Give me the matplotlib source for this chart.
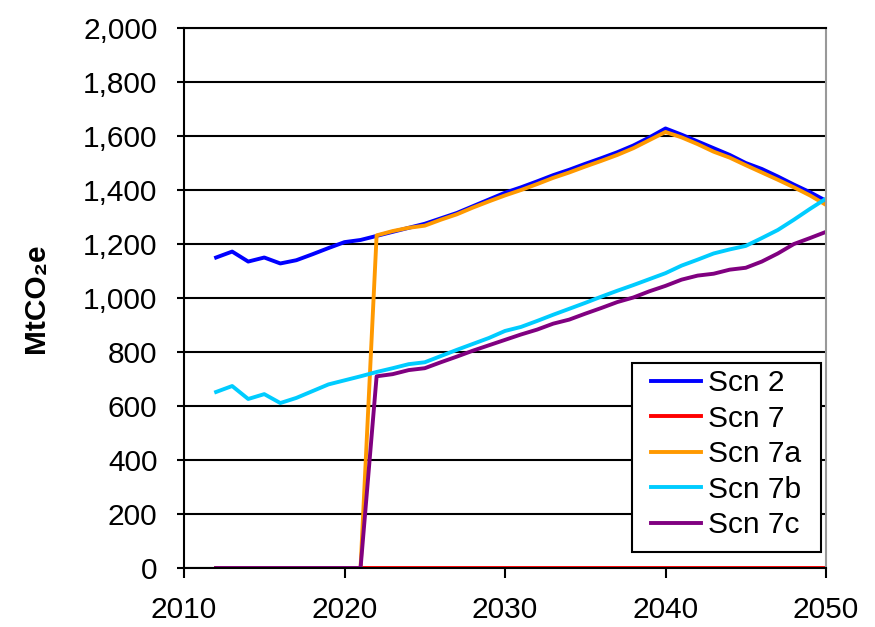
import matplotlib
matplotlib.use('Agg')
import matplotlib.pyplot as plt
from matplotlib.patches import Rectangle
from matplotlib.ticker import FuncFormatter

years = list(range(2012, 2051))

scn2 = [1150, 1172, 1135, 1150, 1128, 1140, 1162, 1185, 1207, 1215,
        1230, 1245, 1260, 1275, 1295, 1315, 1340, 1365, 1390, 1410,
        1432, 1455, 1475, 1497, 1518, 1540, 1565, 1595, 1628, 1605,
        1580, 1555, 1530, 1500, 1478, 1450, 1420, 1392, 1360]
scn7 = [0] * 39
scn7a = [0, 0, 0, 0, 0, 0, 0, 0, 0, 0,
         1232, 1248, 1260, 1268, 1290, 1310, 1335, 1358, 1380, 1400,
         1422, 1445, 1465, 1487, 1508, 1530, 1555, 1585, 1615, 1595,
         1570, 1542, 1520, 1492, 1465, 1438, 1410, 1380, 1345]
scn7b = [652, 674, 626, 644, 611, 630, 655, 680, 695, 710,
         726, 740, 755, 762, 785, 808, 830, 852, 878, 893,
         915, 938, 960, 982, 1005, 1027, 1048, 1070, 1092, 1120,
         1142, 1165, 1180, 1193, 1222, 1252, 1290, 1330, 1368]
scn7c = [0, 0, 0, 0, 0, 0, 0, 0, 0, 0,
         710, 718, 733, 740, 762, 783, 805, 825, 845, 865,
         883, 905, 920, 942, 963, 985, 1002, 1025, 1045, 1068,
         1083, 1090, 1105, 1112, 1135, 1165, 1200, 1222, 1245]

series = [("Scn 2", scn2, "#0000FF"),
          ("Scn 7", scn7, "#FF0000"),
          ("Scn 7a", scn7a, "#FF9900"),
          ("Scn 7b", scn7b, "#00CCFF"),
          ("Scn 7c", scn7c, "#800080")]

plt.rcParams['font.family'] = ['Liberation Sans', 'DejaVu Sans']
plt.rcParams['font.size'] = 21.5

fig = plt.figure(figsize=(8.75, 6.27), dpi=100)
ax = fig.add_axes([0.2103, 0.0941, 0.7337, 0.8612])

for name, vals, col in series:
    ax.plot(years, vals, color=col, lw=2.8, label=name)

ax.set_xlim(2010, 2050)
ax.set_ylim(0, 2000)
ax.set_xticks(range(2010, 2051, 10))
ax.set_yticks(range(0, 2001, 200))
ax.yaxis.set_major_formatter(FuncFormatter(lambda v, p: f"{int(v):,}"))
ax.grid(axis='y', color='black', lw=1.5)
ax.set_axisbelow(True)
ax.tick_params(axis='x', direction='out', length=7, width=1.5, pad=13.5)
ax.tick_params(axis='y', direction='out', length=5, width=1.5, pad=14)

ax.spines['left'].set_linewidth(1.5)
ax.spines['bottom'].set_linewidth(1.5)
ax.spines['top'].set_linewidth(1.5)
ax.spines['right'].set_color('#999999')
ax.spines['right'].set_linewidth(1.5)

ax.set_ylabel("MtCO₂e", fontweight='bold')
ax.yaxis.set_label_coords(-0.209, 0.5)

# legend box drawn separately, entries placed inside it
ax.add_patch(Rectangle((0.698, 0.0296), 0.294, 0.35, transform=ax.transAxes,
                       facecolor='white', edgecolor='black', lw=1.5, zorder=4))
leg = ax.legend(loc='upper left', bbox_to_anchor=(0.7274, 0.368),
                borderaxespad=0, borderpad=0, frameon=False,
                handlelength=1.67, labelspacing=0.25, handletextpad=0.25)
leg.set_zorder(5)

fig.savefig('out.png', dpi=100)
